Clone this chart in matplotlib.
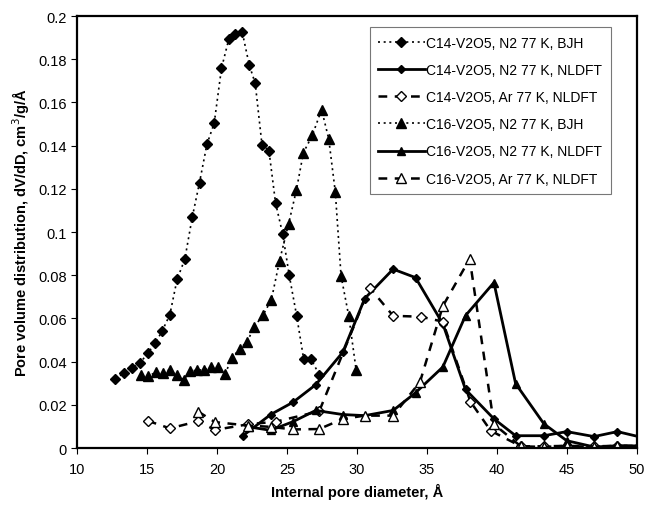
import matplotlib
matplotlib.use("Agg")
import matplotlib.pyplot as plt
from matplotlib.ticker import FixedLocator

plt.rcParams["font.family"] = ["Liberation Sans", "DejaVu Sans"]

# --- data -------------------------------------------------------------
c14_bjh_d = [12.74, 13.38, 13.96, 14.51, 15.06, 15.58, 16.10, 16.63, 17.15, 17.70,
             18.23, 18.75, 19.28, 19.80, 20.32, 20.85, 21.32, 21.80, 22.30, 22.73,
             23.21, 23.71, 24.18, 24.69, 25.16, 25.69, 26.19, 26.72, 27.29]
c14_bjh_v = [0.0320, 0.0349, 0.0370, 0.0394, 0.0440, 0.0484, 0.0544, 0.0617, 0.0781, 0.0874,
             0.1068, 0.1229, 0.1406, 0.1504, 0.1758, 0.1895, 0.1918, 0.1926, 0.1774, 0.1688,
             0.1405, 0.1377, 0.1135, 0.0991, 0.0799, 0.0612, 0.0412, 0.0412, 0.0340]

c14_n2_dft_d = [21.85, 23.83, 25.43, 27.05, 28.98, 30.55, 32.58, 34.18, 36.13, 37.75,
                39.78, 41.33, 43.35, 44.98, 46.93, 48.60, 50.30]
c14_n2_dft_v = [0.0057, 0.0155, 0.0212, 0.0293, 0.0443, 0.0692, 0.0828, 0.0789, 0.0575, 0.0271,
                0.0135, 0.0057, 0.0057, 0.0076, 0.0053, 0.0076, 0.0050]

c14_ar_dft_d = [15.06, 16.63, 18.65, 19.85, 22.24, 24.20, 27.30, 30.90, 32.58, 34.55,
                36.13, 38.10, 39.55, 41.70, 43.35, 44.98, 46.93, 48.60, 50.30]
c14_ar_dft_v = [0.0126, 0.0091, 0.0124, 0.0084, 0.0110, 0.0122, 0.0170, 0.0743, 0.0612, 0.0608,
                0.0585, 0.0215, 0.0080, 0.0008, 0.0008, 0.0010, 0.0008, 0.0010, 0.0010]

c16_bjh_d = [14.58, 15.10, 15.65, 16.15, 16.63, 17.13, 17.63, 18.10, 18.60, 19.08,
             19.58, 20.06, 20.57, 21.09, 21.61, 22.14, 22.66, 23.28, 23.88, 24.47,
             25.11, 25.67, 26.17, 26.81, 27.47, 27.98, 28.45, 28.86, 29.41, 29.94]
c16_bjh_v = [0.0340, 0.0332, 0.0352, 0.0349, 0.0363, 0.0336, 0.0316, 0.0357, 0.0360, 0.0363,
             0.0374, 0.0374, 0.0344, 0.0417, 0.0460, 0.0490, 0.0561, 0.0615, 0.0685, 0.0868,
             0.1037, 0.1194, 0.1367, 0.1448, 0.1567, 0.1431, 0.1185, 0.0797, 0.0611, 0.0360]

c16_n2_dft_d = [22.25, 23.83, 25.43, 27.05, 28.98, 30.55, 32.58, 34.18, 36.13, 37.75,
                39.78, 41.33, 43.35, 44.98, 46.93, 48.60, 50.30]
c16_n2_dft_v = [0.0098, 0.0082, 0.0122, 0.0174, 0.0155, 0.0150, 0.0174, 0.0256, 0.0375, 0.0613,
                0.0766, 0.0298, 0.0112, 0.0034, 0.0005, 0.0010, 0.0010]

c16_ar_dft_d = [18.65, 19.85, 22.24, 23.83, 25.43, 27.30, 29.00, 30.55, 32.58, 34.50,
                36.13, 38.05, 39.78, 41.70, 43.35, 44.98, 46.93, 48.60, 50.30]
c16_ar_dft_v = [0.0169, 0.0120, 0.0104, 0.0098, 0.0086, 0.0088, 0.0135, 0.0150, 0.0150, 0.0306,
                0.0657, 0.0876, 0.0110, 0.0008, 0.0005, 0.0010, 0.0005, 0.0010, 0.0010]

x_ticks = [10, 15, 20, 25, 30, 35, 40, 45, 50]
y_ticks = [0, 0.02, 0.04, 0.06, 0.08, 0.1, 0.12, 0.14, 0.16, 0.18, 0.2]
y_tick_labels = ["0", "0.02", "0.04", "0.06", "0.08", "0.1", "0.12", "0.14", "0.16", "0.18", "0.2"]

# --- figure -----------------------------------------------------------
fig = plt.figure(figsize=(6.45, 5.06), dpi=100)
ax = fig.add_axes([0.1194, 0.1126, 0.8682, 0.8538])

dot = (0, (1.2, 2.2))
dash = (0, (3.5, 3.0))

ax.plot(c14_bjh_d, c14_bjh_v, color="black", lw=1.2, ls=dot, marker="D", ms=5.5,
        mfc="black", mec="black", label="C14-V2O5, N2 77 K, BJH")
ax.plot(c14_n2_dft_d, c14_n2_dft_v, color="black", lw=2.0, ls="-", marker="D", ms=4.5,
        mfc="black", mec="black", label="C14-V2O5, N2 77 K, NLDFT")
ax.plot(c14_ar_dft_d, c14_ar_dft_v, color="black", lw=1.8, ls=dash, marker="D", ms=5,
        mfc="white", mec="black", mew=1.0, label="C14-V2O5, Ar 77 K, NLDFT")
ax.plot(c16_bjh_d, c16_bjh_v, color="black", lw=1.2, ls=dot, marker="^", ms=7,
        mfc="black", mec="black", label="C16-V2O5, N2 77 K, BJH")
ax.plot(c16_n2_dft_d, c16_n2_dft_v, color="black", lw=2.0, ls="-", marker="^", ms=6,
        mfc="black", mec="black", label="C16-V2O5, N2 77 K, NLDFT")
ax.plot(c16_ar_dft_d, c16_ar_dft_v, color="black", lw=1.8, ls=dash, marker="^", ms=6.5,
        mfc="white", mec="black", mew=1.0, label="C16-V2O5, Ar 77 K, NLDFT")

ax.set_xlim(10, 50)
ax.set_ylim(0, 0.2)
ax.xaxis.set_major_locator(FixedLocator(x_ticks))
ax.set_yticks(y_ticks)
ax.set_yticklabels(y_tick_labels)
ax.tick_params(axis="both", direction="out", length=4, width=0.8, labelsize=10.5,
               colors="black")
ax.tick_params(axis="x", pad=6)
for s in ax.spines.values():
    s.set_linewidth(1.6)
    s.set_color("black")

ax.set_xlabel("Internal pore diameter, Å", fontsize=10.5, fontweight="bold", labelpad=5)
ax.set_ylabel("Pore volume distribution, dV/dD, cm$^3$/g/Å", fontsize=10.5,
              fontweight="bold", labelpad=4)

leg = ax.legend(loc="upper left", bbox_to_anchor=(0.51, 0.99), fontsize=10,
                frameon=True, fancybox=False, edgecolor="#777777", framealpha=1,
                handlelength=3.4, handletextpad=0.1, labelspacing=0.95,
                borderpad=0.6, numpoints=1)
leg.get_frame().set_linewidth(0.8)

fig.savefig("out.png", dpi=100)
